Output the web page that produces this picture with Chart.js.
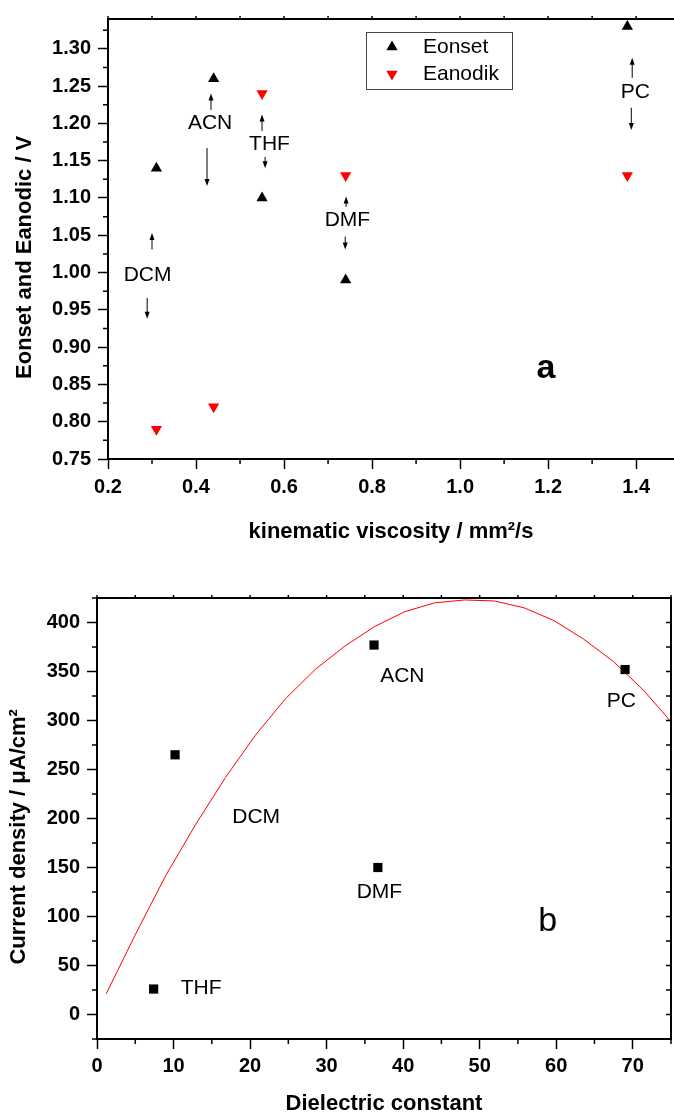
<!DOCTYPE html>
<html>
<head>
<meta charset="utf-8">
<script src="https://cdn.jsdelivr.net/npm/chart.js@4.4.1/dist/chart.umd.min.js"></script>
<style>
  body { margin: 0; background: #fff; }
  canvas { position: absolute; left: 0; }
  #chartA { top: 0; }
  #chartB { top: 560px; }
</style>
</head>
<body>
<canvas id="chartA" width="674" height="560"></canvas>
<canvas id="chartB" width="674" height="555"></canvas>
<script>
// --- panel a: potentials vs kinematic viscosity
const solventsA = ['DCM', 'ACN', 'THF', 'DMF', 'PC'];
const viscosity = [0.31, 0.44, 0.55, 0.74, 1.38];
const eOnset = [1.14, 1.26, 1.10, 0.99, 1.33];
const eAnodik = [0.79, 0.82, 1.24, 1.13, 1.13];
const labelPosA = [[0.290, 0.996], [0.432, 1.200], [0.567, 1.172], [0.744, 1.070], [1.398, 1.242]];
// [x, tail y, tip y]
const arrowsA = [
  [0.300, 1.031, 1.053], [0.289, 0.966, 0.938],
  [0.434, 1.218, 1.240], [0.425, 1.167, 1.116],
  [0.550, 1.190, 1.212], [0.557, 1.155, 1.140],
  [0.741, 1.088, 1.102], [0.739, 1.048, 1.031],
  [1.391, 1.261, 1.288], [1.389, 1.221, 1.191]
];
const xTicksA = [0.2, 0.4, 0.6, 0.8, 1.0, 1.2, 1.4];
const yTicksA = [0.75, 0.80, 0.85, 0.90, 0.95, 1.00, 1.05, 1.10, 1.15, 1.20, 1.25, 1.30];

// --- panel b: current density vs dielectric constant
const solventsB = ['THF', 'DCM', 'ACN', 'DMF', 'PC'];
const dielectric = [7.4, 10.2, 36.2, 36.7, 69.0];
const currentDensity = [26, 265, 377, 150, 352];
const labelPosB = [[13.6, 26.5], [20.8, 201], [39.9, 345], [36.9, 124.5], [68.5, 320]];
const fitX = [1.2, 5.1, 9.0, 12.9, 16.8, 20.7, 24.6, 28.5, 32.4, 36.3, 40.2, 44.1, 48.0, 51.9, 55.8, 59.7, 63.6, 67.5, 71.4, 75.3];
const fitY = [21, 83, 142, 194, 242, 285, 322, 352, 376, 396, 411, 420, 423, 422, 415, 402, 383, 360, 331, 296];
const xTicksB = [0, 10, 20, 30, 40, 50, 60, 70];
const yTicksB = [0, 50, 100, 150, 200, 250, 300, 350, 400];

const FONT = 'Arial, "Liberation Sans", sans-serif';
Chart.defaults.font.family = FONT;
Chart.defaults.color = '#000';

function halfSteps(scale, majors) {
  const step = (majors[1] - majors[0]) / 2;
  const out = [];
  let k = Math.ceil((scale.min - majors[0]) / step - 1e-6);
  for (;; k++) {
    const v = majors[0] + k * step;
    if (v > scale.max + 1e-9) break;
    out.push({ v, minor: Math.abs(k % 2) === 1 });
  }
  return out;
}

// minor ticks, top edge and optional right edge
const framePlugin = {
  id: 'frame',
  afterDraw(chart, args, o) {
    const { ctx, chartArea: a, scales: { x, y } } = chart;
    ctx.save();
    ctx.strokeStyle = '#000';
    ctx.lineWidth = 2;
    ctx.beginPath();
    ctx.moveTo(a.left, a.top); ctx.lineTo(a.right, a.top);
    if (o.right) { ctx.moveTo(a.right, a.top - 1); ctx.lineTo(a.right, a.bottom + 1); }
    ctx.stroke();
    ctx.lineWidth = 1.5;
    ctx.beginPath();
    halfSteps(x, o.xMajor).forEach(t => {
      const px = x.getPixelForValue(t.v);
      if (t.minor) { ctx.moveTo(px, a.bottom); ctx.lineTo(px, a.bottom + 5); }
      ctx.moveTo(px, a.top); ctx.lineTo(px, a.top - 3);
    });
    halfSteps(y, o.yMajor).forEach(t => {
      const py = y.getPixelForValue(t.v);
      if (t.minor) { ctx.moveTo(a.left, py); ctx.lineTo(a.left - 5, py); }
      if (o.right) { ctx.moveTo(a.right, py); ctx.lineTo(a.right - 5, py); }
    });
    ctx.stroke();
    ctx.restore();
  }
};

// solvent names, arrows and panel letter
const notesPlugin = {
  id: 'notes',
  afterDatasetsDraw(chart, args, o) {
    const { ctx, scales: { x, y } } = chart;
    ctx.save();
    ctx.fillStyle = '#000';
    ctx.strokeStyle = '#000';
    ctx.textAlign = 'center';
    ctx.textBaseline = 'middle';
    ctx.font = '21px ' + FONT;
    o.names.forEach((n, i) => {
      ctx.fillText(n, x.getPixelForValue(o.pos[i][0]), y.getPixelForValue(o.pos[i][1]));
    });
    (o.arrows || []).forEach(([ax, y0, y1]) => {
      const px = x.getPixelForValue(ax);
      const p0 = y.getPixelForValue(y0), p1 = y.getPixelForValue(y1);
      const d = Math.sign(p1 - p0);
      ctx.lineWidth = 1;
      ctx.beginPath(); ctx.moveTo(px, p0); ctx.lineTo(px, p1 - d * 5); ctx.stroke();
      ctx.beginPath();
      ctx.moveTo(px, p1);
      ctx.lineTo(px - 2.5, p1 - d * 7);
      ctx.lineTo(px + 2.5, p1 - d * 7);
      ctx.closePath(); ctx.fill();
    });
    ctx.font = o.tagFont;
    ctx.fillText(o.tag, x.getPixelForValue(o.tagAt[0]), y.getPixelForValue(o.tagAt[1]));
    ctx.restore();
  }
};

// framed legend inside the plot
const boxLegend = {
  id: 'boxLegend',
  afterDraw(chart, args, o) {
    const { ctx, chartArea: a } = chart;
    const left = a.left + o.dx, top = a.top + o.dy;
    ctx.save();
    ctx.strokeStyle = '#444';
    ctx.lineWidth = 1;
    ctx.strokeRect(left + 0.5, top + 0.5, o.w, o.h);
    ctx.font = '21px ' + FONT;
    ctx.textBaseline = 'middle';
    chart.data.datasets.forEach((ds, i) => {
      const cy = top + o.first + i * o.gap;
      ctx.fillStyle = ds.backgroundColor;
      ctx.strokeStyle = ds.borderColor;
      Chart.helpers.drawPoint(ctx, {
        pointStyle: ds.pointStyle, radius: ds.pointRadius,
        rotation: ds.pointRotation || 0, borderWidth: 0
      }, left + o.markX, cy);
      ctx.fillStyle = '#000';
      ctx.fillText(ds.label, left + o.textX, cy);
    });
    ctx.restore();
  }
};

function axis(opts) {
  return {
    type: 'linear',
    min: opts.min, max: opts.max,
    afterBuildTicks: s => { s.ticks = opts.ticks.map(v => ({ value: v })); },
    afterFit: opts.fit,
    grid: { display: true, drawOnChartArea: false, drawTicks: true, tickLength: 10, tickColor: '#000', tickWidth: 1.5 },
    border: { display: true, color: '#000', width: 2 },
    ticks: {
      color: '#000', autoSkip: false, maxRotation: 0, padding: opts.pad,
      font: { size: 20, weight: 'bold' },
      callback: opts.fmt
    },
    title: {
      display: true, text: opts.title, color: '#000',
      font: { size: 22, weight: 'bold' }, padding: opts.titlePad
    }
  };
}

new Chart(document.getElementById('chartA'), {
  type: 'scatter',
  data: {
    datasets: [{
      label: 'Eonset',
      data: viscosity.map((v, i) => ({ x: v, y: eOnset[i] })),
      pointStyle: 'triangle', pointRadius: 6.5, borderWidth: 0,
      backgroundColor: '#000', borderColor: '#000'
    }, {
      label: 'Eanodik',
      data: viscosity.map((v, i) => ({ x: v, y: eAnodik[i] })),
      pointStyle: 'triangle', pointRotation: 180, pointRadius: 6.5, borderWidth: 0,
      backgroundColor: '#ff0000', borderColor: '#ff0000'
    }]
  },
  options: {
    responsive: false,
    animation: false,
    layout: { autoPadding: false, padding: { top: 19, right: 0, bottom: 0, left: 0 } },
    plugins: {
      legend: { display: false },
      tooltip: { enabled: false },
      frame: { right: false, xMajor: xTicksA, yMajor: yTicksA },
      notes: {
        names: solventsA, pos: labelPosA, arrows: arrowsA,
        tag: 'a', tagAt: [1.195, 0.871], tagFont: 'bold 34px ' + FONT
      },
      boxLegend: { dx: 258, dy: 13, w: 146, h: 57, markX: 26, textX: 57, first: 15, gap: 27 }
    },
    scales: {
      x: axis({
        min: 0.2, max: 1.486, ticks: xTicksA, pad: 6,
        fit: s => { s.height = 101; },
        fmt: v => v.toFixed(1),
        title: 'kinematic viscosity / mm²/s', titlePad: { top: 0, bottom: 15 }
      }),
      y: axis({
        min: 0.75, max: 1.340, ticks: yTicksA, pad: 7,
        fit: s => { s.width = 108; },
        fmt: v => v.toFixed(2),
        title: 'Eonset and Eanodic / V      ', titlePad: { top: 12, bottom: 0 }
      })
    }
  },
  plugins: [framePlugin, notesPlugin, boxLegend]
});

new Chart(document.getElementById('chartB'), {
  type: 'scatter',
  data: {
    datasets: [{
      label: 'Current density',
      data: dielectric.map((v, i) => ({ x: v, y: currentDensity[i] })),
      pointStyle: 'rect', pointRadius: 6.5, borderWidth: 0,
      backgroundColor: '#000', borderColor: '#000'
    }, {
      label: 'Fit',
      data: fitX.map((v, i) => ({ x: v, y: fitY[i] })),
      showLine: true, pointRadius: 0, borderWidth: 1,
      borderColor: '#ff0000', backgroundColor: '#ff0000', tension: 0
    }]
  },
  options: {
    responsive: false,
    animation: false,
    layout: { autoPadding: false, padding: { top: 38, right: 3, bottom: 0, left: 0 } },
    plugins: {
      legend: { display: false },
      tooltip: { enabled: false },
      frame: { right: true, xMajor: xTicksB, yMajor: yTicksB },
      notes: {
        names: solventsB, pos: labelPosB,
        tag: 'b', tagAt: [58.9, 94.4], tagFont: '34px ' + FONT
      }
    },
    scales: {
      x: axis({
        min: 0, max: 75, ticks: xTicksB, pad: 5,
        fit: s => { s.height = 76; },
        fmt: v => String(v),
        title: 'Dielectric constant', titlePad: { top: 0, bottom: -2 }
      }),
      y: axis({
        min: -25, max: 425, ticks: yTicksB, pad: 7,
        fit: s => { s.width = 97; },
        fmt: v => String(v),
        title: 'Current density / μA/cm²      ', titlePad: { top: 6, bottom: 0 }
      })
    }
  },
  plugins: [framePlugin, notesPlugin]
});
</script>
</body>
</html>
